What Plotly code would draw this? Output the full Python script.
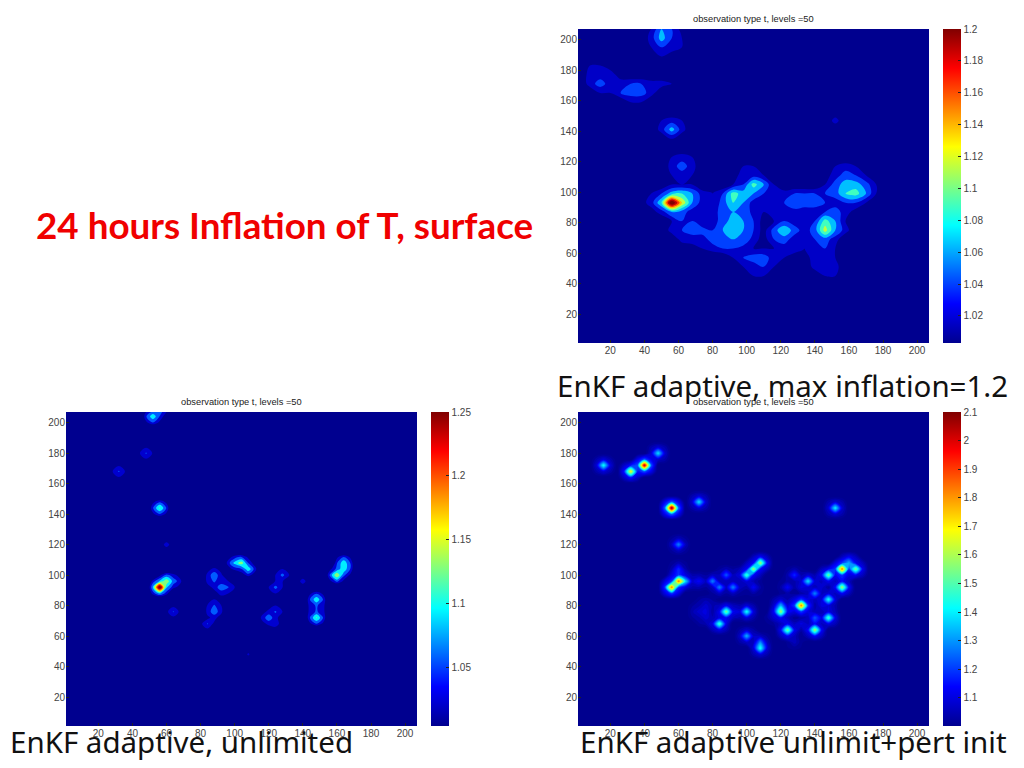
import plotly.graph_objects as go

TITLE = "24 hours Inflation of T, surface"
SUBTITLE = "observation type t, levels =50"
CAPTION_A = "EnKF adaptive, max inflation=1.2"
CAPTION_B = "EnKF adaptive, unlimited"
CAPTION_C = "EnKF adaptive unlimit+pert init"
AXIS_TICKS = [20, 40, 60, 80, 100, 120, 140, 160, 180, 200]
CB_TICKS_A = [1.02, 1.04, 1.06, 1.08, 1.1, 1.12, 1.14, 1.16, 1.18, 1.2]
CB_TICKS_B = [1.05, 1.1, 1.15, 1.2, 1.25]
CB_TICKS_C = [1.1, 1.2, 1.3, 1.4, 1.5, 1.6, 1.7, 1.8, 1.9, 2, 2.1]

# Panel A: read values (hundredths above 1), y -> (first x, values on a 6-unit x spacing)
A_ROWS = {
    207: [(44, [2, 6, 4, 1])],
    201: [(44, [3, 7, 4, 2])],
    195: [(44, [2, 4, 3, 2])],
    189: [(50, [2, 1])],
    183: [(8, [2, 2, 1])],
    177: [(8, [3, 3, 3, 1])],
    171: [(8, [3, 5, 3, 3, 4, 4, 3, 3, 2])],
    165: [(14, [2, 2, 4, 5, 5, 3])],
    159: [(32, [2, 2])],
    147: [(50, [2, 3, 2]), (152, [3])],
    141: [(50, [3, 7, 3])],
    135: [(56, [2])],
    123: [(56, [2, 3, 2])],
    117: [(56, [3, 5, 3]), (98, [2, 2]), (152, [2, 3, 2])],
    111: [(56, [2, 3, 2, 1]), (92, [1, 3, 3, 2]), (146, [1, 3, 5, 4, 2])],
    105: [(56, [2, 2, 2]), (92, [2, 4, 9, 6, 2]), (146, [2, 5, 7, 7, 5, 2])],
    99: [(44, [2, 4, 7, 8, 6, 3, 2, 4, 9, 7, 6, 4, 3, 3, 4, 4, 4, 4, 5, 8, 9, 6, 2])],
    93: [(38, [1, 3, 8, 21, 12, 6, 3, 2, 5, 8, 6, 3, 3, 4, 4, 6, 5, 6, 4, 3, 4, 4, 2])],
    87: [(44, [1, 3, 6, 5, 3, 2, 3, 5, 6, 6, 3, 2, 3, 4, 3, 3, 2, 4, 5, 3, 1])],
    81: [(56, [2, 4, 4, 2, 3, 5, 7, 6, 4, 1, 2, 4, 3, 3, 4, 9, 6, 2])],
    75: [(56, [3, 4, 5, 5, 4, 6, 7, 6, 4, 1, 5, 8, 5, 3, 5, 11, 6, 3])],
    69: [(62, [3, 3, 3, 5, 6, 6, 6, 3, 1, 4, 5, 3, 2, 4, 5, 3])],
    63: [(68, [1, 2, 3, 4, 4, 3, 2, 2, 2, 3, 3, 2, 3, 4, 2])],
    57: [(92, [2, 4, 5, 5, 3, 2, 1, 1, 3, 3, 2])],
    51: [(98, [2, 3, 4, 2, 1]), (140, [3, 4, 3])],
    45: [(104, [2, 2]), (146, [2, 2])],
}

# Panel B spots: centre, peak, side and corner heights in hundredths above 1
B_X = [52, 56, 48, 32, 56, 60, 100, 104, 108, 56, 60, 64, 164, 160, 164, 88, 92, 96, 88, 88, 88, 84, 64, 120, 124, 124, 124, 128, 140, 148, 148, 148, 148, 108]
B_Y = [204, 208, 180, 168, 144, 120, 108, 108, 104, 92, 96, 96, 108, 100, 104, 100, 92, 92, 96, 76, 80, 68, 76, 72, 76, 68, 92, 100, 96, 84, 72, 76, 80, 48]
B_C = [12.5, 9.5, 8.5, 8.5, 13.5, 7, 11.5, 14.5, 12.5, 25.5, 15, 9.5, 12.5, 15.5, 12.5, 9.5, 9.5, 8.5, 8.5, 9.5, 8.5, 8.5, 8.5, 9.5, 8.5, 7.5, 9, 9, 7, 12.5, 13.5, 8.5, 8.5, 7]
B_S = [8, 6, 5.5, 5.5, 8, 4, 7, 8, 7, 11, 9, 7, 8, 9, 8, 7, 7, 6, 7, 7, 6, 5, 5, 7, 6, 4, 6, 6, 4, 8, 8, 7, 7, 0]
B_D = [5, 3.5, 3, 3, 5, 2, 4, 5, 4, 7, 5, 4, 5, 5, 5, 4, 4, 3.5, 4, 4, 3.5, 3, 3, 4, 3.5, 2, 3.5, 3.5, 2, 5, 5, 4, 4, 0]

# Panel C spots: same layout
C_X = [16, 40, 32, 48, 56, 72, 60, 152, 60, 56, 60, 64, 72, 80, 88, 84, 92, 100, 104, 108, 104, 88, 100, 84, 76, 100, 108, 108, 128, 124, 120, 120, 124, 132, 136, 140, 148, 156, 160, 164, 156, 148, 148, 140, 140, 72, 76, 76, 132, 144, 132, 144, 116, 128]
C_Y = [172, 172, 168, 180, 144, 148, 120, 144, 104, 92, 96, 96, 96, 96, 100, 92, 92, 100, 104, 108, 92, 76, 76, 68, 76, 60, 52, 56, 100, 92, 80, 76, 64, 80, 96, 88, 100, 104, 108, 104, 92, 84, 72, 72, 64, 76, 72, 80, 92, 92, 68, 80, 72, 56]
C_C = [45, 105, 70, 40, 110, 40, 30, 42, 20, 85, 85, 40, 15, 30, 25, 30, 30, 50, 60, 60, 15, 55, 45, 50, 12, 35, 45, 30, 20, 15, 35, 60, 55, 85, 40, 30, 55, 85, 35, 55, 60, 45, 50, 25, 60, 10, 10, 10, 12, 10, 12, 12, 10, 8]
C_S = [11, 24, 17, 10, 26, 10, 8, 10, 6, 21, 21, 10, 6, 8, 7, 8, 8, 12, 15, 15, 5, 14, 11, 12, 5, 9, 11, 8, 6, 5, 10, 15, 14, 21, 10, 8, 14, 21, 14, 14, 15, 11, 12, 7, 15, 6, 6, 6, 5, 4, 5, 5, 4, 3]
C_D = [6, 13, 9, 6, 14, 6, 4, 6, 3, 12, 12, 6, 3, 4, 4, 4, 4, 7, 8, 8, 3, 8, 6, 7, 3, 5, 6, 4, 3, 3, 6, 8, 8, 12, 6, 4, 8, 12, 8, 8, 8, 6, 7, 4, 8, 4, 4, 4, 3, 2, 3, 3, 2, 2]

JET = [[0, "rgb(0,0,143)"], [0.125, "rgb(0,0,255)"], [0.375, "rgb(0,255,255)"],
       [0.625, "rgb(255,255,0)"], [0.875, "rgb(255,0,0)"], [1, "rgb(128,0,0)"]]


def grid_from_rows(rows):
    xs = list(range(-4, 219, 6))
    ys = list(range(-3, 220, 6))
    z = [[1.0 for _ in xs] for _ in ys]
    for y, spans in rows.items():
        for x0, vals in spans:
            for i, v in enumerate(vals):
                z[ys.index(y)][xs.index(x0 + 6 * i)] = 1 + v / 100
    return xs, ys, z


def grid_from_spots(cx, cy, c, s, d):
    xs = list(range(-4, 221, 4))
    ys = list(range(-4, 221, 4))
    z = [[1.0 for _ in xs] for _ in ys]
    for x, y, pc, ps, pd in zip(cx, cy, c, s, d):
        for dy in (-4, 0, 4):
            for dx in (-4, 0, 4):
                n = abs(dx) + abs(dy)
                v = pc if n == 0 else (ps if n == 4 else pd)
                j, i = ys.index(y + dy), xs.index(x + dx)
                z[j][i] = max(z[j][i], 1 + v / 100)
    return xs, ys, z


W, H = 1024, 768
PANELS = [
    dict(box=(578, 929, 29, 343), bar=(943, 961), data=grid_from_rows(A_ROWS), lo=1.003, hi=1.2,
         start=1.02, size=0.02, end=1.2, ticks=CB_TICKS_A),
    dict(box=(66, 417, 412, 726), bar=(431, 449), data=grid_from_spots(B_X, B_Y, B_C, B_S, B_D), lo=1.004, hi=1.25,
         start=1.058, size=0.024, end=1.25, ticks=CB_TICKS_B),
    dict(box=(578, 929, 412, 726), bar=(943, 961), data=grid_from_spots(C_X, C_Y, C_C, C_S, C_D), lo=1.002, hi=2.1,
         start=1.022, size=0.022, end=2.1, ticks=CB_TICKS_C),
]

fig = go.Figure()
layout = dict(width=W, height=H, margin=dict(l=0, r=0, t=0, b=0), paper_bgcolor="white",
              plot_bgcolor="rgb(0,0,143)", showlegend=False,
              font=dict(family="Liberation Sans", size=10, color="#333333"))
notes = []
TICKFONT = dict(family="Liberation Sans", size=10, color="#444444")
for n, p in enumerate(PANELS, start=1):
    suffix = "" if n == 1 else str(n)
    l, r, t, b = p["box"]
    xs, ys, z = p["data"]
    fig.add_trace(go.Contour(
        x=xs, y=ys, z=z, zmin=p["lo"], zmax=p["hi"], colorscale=JET, showscale=False,
        autocontour=False, contours=dict(start=p["start"], end=p["end"], size=p["size"], coloring="fill"),
        line=dict(width=0, smoothing=1.0), xaxis="x" + suffix, yaxis="y" + suffix, hoverinfo="skip",
    ))
    # off-range heatmap: carries only the smooth colour bar
    fig.add_trace(go.Heatmap(
        x=[-60, -50], y=[-60, -50], z=[[p["lo"], p["hi"]], [p["lo"], p["hi"]]], zmin=p["lo"], zmax=p["hi"],
        colorscale=JET, xaxis="x" + suffix, yaxis="y" + suffix, hoverinfo="skip",
        colorbar=dict(x=p["bar"][0] / W, xanchor="left", xref="paper", y=1 - b / H, yanchor="bottom",
                      yref="paper", len=(b - t) / H, lenmode="fraction", thickness=p["bar"][1] - p["bar"][0],
                      thicknessmode="pixels", xpad=0, ypad=0, outlinewidth=0, tickvals=p["ticks"],
                      ticks="inside", ticklen=3, tickcolor="#222222", tickfont=TICKFONT),
    ))
    layout["xaxis" + suffix] = dict(domain=[l / W, r / W], range=[1, 207], tickvals=AXIS_TICKS,
                                    ticks="inside", ticklen=3, tickcolor="#222222", tickfont=TICKFONT,
                                    showgrid=False, zeroline=False, anchor="y" + suffix, automargin=False)
    layout["yaxis" + suffix] = dict(domain=[1 - b / H, 1 - t / H], range=[1, 207], tickvals=AXIS_TICKS,
                                    ticks="inside", ticklen=3, tickcolor="#222222", tickfont=TICKFONT,
                                    showgrid=False, zeroline=False, anchor="x" + suffix, automargin=False)
    notes.append(dict(text=SUBTITLE, x=(l + r) / 2 / W, y=1 - (t - 10) / H, xref="paper", yref="paper",
                      xanchor="center", yanchor="middle", showarrow=False,
                      font=dict(family="Liberation Sans", size=9.3, color="#222222")))

CAP = dict(family="Noto Sans", size=29.5, color="#111111")
notes += [
    dict(text="<b>" + TITLE + "</b>", x=34 / W, y=1 - 225 / H, xref="paper", yref="paper", xanchor="left",
         yanchor="middle", showarrow=False, font=dict(family="Lato", size=36.8, color="#f00000")),
    dict(text=CAPTION_A, x=555 / W, y=1 - 385 / H, xref="paper", yref="paper", xanchor="left", yanchor="middle",
         showarrow=False, font=CAP),
    dict(text=CAPTION_B, x=8 / W, y=1 - 741 / H, xref="paper", yref="paper", xanchor="left", yanchor="middle",
         showarrow=False, font=CAP),
    dict(text=CAPTION_C, x=578 / W, y=1 - 741 / H, xref="paper", yref="paper", xanchor="left", yanchor="middle",
         showarrow=False, font=CAP),
]
layout["annotations"] = notes
fig.update_layout(**layout)
fig.write_html("out.html", config={"displayModeBar": False},
               post_script="document.body.style.margin='0';document.body.style.overflow='hidden';")
